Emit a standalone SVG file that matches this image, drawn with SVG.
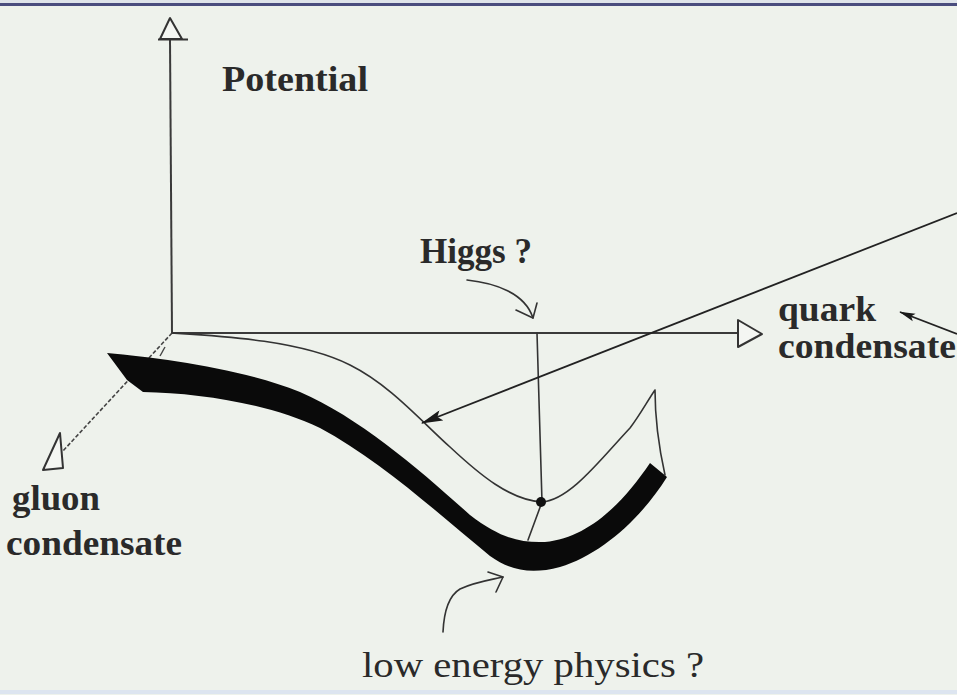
<svg xmlns="http://www.w3.org/2000/svg" width="957" height="695" viewBox="0 0 957 695">
<defs>
<style>
.lbl{font-family:"Liberation Serif","Times New Roman",serif;font-weight:bold;font-size:36px;fill:#2a2a2a}
.reg{font-family:"Liberation Serif","Times New Roman",serif;font-size:36px;fill:#2a2a2a}
.thin{fill:none;stroke:#333;stroke-width:1.6;stroke-linecap:round;stroke-linejoin:round}
.axis{fill:none;stroke:#3a3a3a;stroke-width:2}
.open{fill:#f4f6f2;stroke:#333;stroke-width:2;stroke-linejoin:round}
</style>
<marker id="fillArrow" viewBox="0 0 20 10" refX="19" refY="5" markerWidth="22" markerHeight="11" markerUnits="userSpaceOnUse" orient="auto">
<path d="M0,0 L20,5 L0,10 L4,5 z" fill="#1a1a1a"/>
</marker>
<marker id="smallArrow" viewBox="0 0 20 10" refX="19" refY="5" markerWidth="16" markerHeight="9" markerUnits="userSpaceOnUse" orient="auto">
<path d="M0,0 L20,5 L0,10 L4,5 z" fill="#1a1a1a"/>
</marker>
</defs>
<rect x="0" y="0" width="957" height="695" fill="#eef2ec"/>
<rect x="0" y="0" width="957" height="3" fill="#dfe4ea"/>
<line x1="0" y1="4.5" x2="957" y2="4.5" stroke="#4a4d7e" stroke-width="3"/>
<line x1="0" y1="692" x2="957" y2="692" stroke="#dde5f0" stroke-width="4"/>

<g id="axes">
<line class="axis" x1="170" y1="40" x2="172" y2="333"/>
<polygon class="open" points="170,18 160,39 182,39"/>
<line x1="158" y1="39.5" x2="188" y2="39.5" stroke="#333" stroke-width="2"/>
<line class="axis" x1="172" y1="333" x2="738" y2="333"/>
<polygon class="open" points="738,320 738,347 762,334"/>
<line x1="172" y1="333" x2="62" y2="452" stroke="#444" stroke-width="1.6" stroke-dasharray="4,2"/>
<line x1="165" y1="347" x2="160" y2="356" stroke="#444" stroke-width="1.4"/>
<polygon class="open" points="60,433 43,470 63,468"/>
</g>

<g id="valley">
<path d="M107,353 C160,358 240,368 300,392 C360,418 420,470 470,515 C500,538 520,543 545,542 C590,538 625,500 650,463 L667,477 C640,520 600,555 560,567 C530,575 510,570 490,556 C440,515 380,460 320,428 C270,404 200,393 143,392 L127,380 Z" fill="#0a0a0a"/>
</g>

<g id="potential-curve">
<path class="thin" d="M172,333 C220,336 300,340 350,365 C390,385 420,420 450,447 C480,475 510,500 542,502 C570,500 600,460 630,428 C640,415 648,400 655,390 Q655,430 665,475"/>
</g>

<g id="higgs-point">
<line class="thin" x1="537" y1="333" x2="542" y2="502"/>
<line class="thin" x1="542" y1="502" x2="528" y2="540"/>
<circle cx="541" cy="502" r="5" fill="#111"/>
</g>

<g id="connectors">
<line x1="957" y1="213" x2="422" y2="423" stroke="#222" stroke-width="1.8" marker-end="url(#fillArrow)"/>
<line x1="957" y1="334" x2="900" y2="312" stroke="#222" stroke-width="1.8" marker-end="url(#smallArrow)"/>
<path class="thin" d="M467,280 C495,283 525,293 533,318"/>
<path class="thin" d="M516,310 L533,318 L537,303"/>
<path class="thin" d="M443,632 C444,610 450,595 460,589 C475,582 490,580 503,577"/>
<path class="thin" d="M488,572 L503,577 L496,592"/>
</g>

<g id="label-potential"><text class="lbl" x="222" y="91" textLength="146" lengthAdjust="spacingAndGlyphs">Potential</text></g>
<g id="label-higgs"><text class="lbl" x="420" y="263" textLength="112" lengthAdjust="spacingAndGlyphs">Higgs ?</text></g>
<g id="label-quark">
<text class="lbl" x="778" y="321" textLength="98" lengthAdjust="spacingAndGlyphs">quark</text>
<text class="lbl" x="778" y="358" textLength="178" lengthAdjust="spacingAndGlyphs">condensate</text>
</g>
<g id="label-gluon">
<text class="lbl" x="12" y="510" textLength="88" lengthAdjust="spacingAndGlyphs">gluon</text>
<text class="lbl" x="6" y="555" textLength="176" lengthAdjust="spacingAndGlyphs">condensate</text>
</g>
<g id="label-low"><text class="reg" x="362" y="677" textLength="342" lengthAdjust="spacingAndGlyphs">low energy  physics ?</text></g>
</svg>
